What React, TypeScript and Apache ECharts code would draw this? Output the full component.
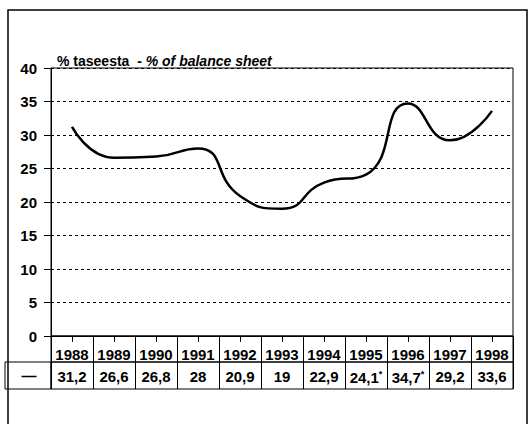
import React, { useEffect, useRef } from "react";
import * as echarts from "echarts";

const years = ["1988", "1989", "1990", "1991", "1992", "1993", "1994", "1995", "1996", "1997", "1998"];
const values = [31.2, 26.6, 26.8, 28, 20.9, 19, 22.9, 24.1, 34.7, 29.2, 33.6];
const starred = [false, false, false, false, false, false, false, true, true, false, false];
const yTicks = { min: 0, max: 40, interval: 5 };
const titleMain = "% taseesta  - ";
const titleItalic = "% of balance sheet";
const legendSymbol = "—";

const FONT = "'Liberation Sans', Arial, Helvetica, sans-serif";

const valueLabels = values.map((v, i) => {
  const s = String(v).replace(".", ",");
  return starred[i] ? `{v|${s}}{s|*}` : `{v|${s}}`;
});

export default function App() {
  const ref = useRef<HTMLDivElement>(null);
  useEffect(() => {
    if (!ref.current) return;
    const chart = echarts.init(ref.current, null, { renderer: "svg" });
    const tableAxis = (gridIndex: number) => ({
      type: "category" as const,
      gridIndex,
      data: years,
      boundaryGap: true,
      axisLine: { show: false },
      axisTick: { show: false },
      axisLabel: { show: false },
      splitLine: { show: true, interval: 0, lineStyle: { color: "#000", width: 1, type: "solid" as const } },
    });
    chart.setOption({
      animation: false,
      backgroundColor: "#fff",
      title: {
        left: 52,
        top: 49,
        text: `{a|${titleMain}}{b|${titleItalic}}`,
        textStyle: {
          rich: {
            a: { fontFamily: FONT, fontSize: 14, color: "#000" },
            b: { fontFamily: FONT, fontSize: 14, color: "#000", fontStyle: "italic" },
          },
        },
      },
      grid: [
        { left: 51, right: 19, top: 68, height: 268, show: true, borderColor: "#000", borderWidth: 1, backgroundColor: "transparent" },
        { left: 51, right: 19, top: 336, height: 26, show: true, borderColor: "#000", borderWidth: 1, backgroundColor: "transparent" },
        { left: 51, right: 19, top: 362, height: 27, show: true, borderColor: "#000", borderWidth: 1, backgroundColor: "transparent" },
      ],
      xAxis: [
        {
          type: "category",
          gridIndex: 0,
          data: years,
          boundaryGap: true,
          axisLine: { show: true, lineStyle: { color: "#000", width: 1 } },
          axisTick: { show: true, alignWithLabel: true, length: 6, lineStyle: { color: "#000" } },
          axisLabel: { interval: 0, margin: 11, fontFamily: FONT, fontSize: 15, fontWeight: "bold", color: "#000" },
          splitLine: { show: false },
        },
        {
          type: "category",
          gridIndex: 0,
          position: "bottom",
          data: valueLabels,
          boundaryGap: true,
          axisLine: { show: false },
          axisTick: { show: false },
          axisLabel: {
            interval: 0,
            margin: 33,
            rich: {
              v: { fontFamily: FONT, fontSize: 15, fontWeight: "bold", color: "#000" },
              s: { fontFamily: FONT, fontSize: 9, fontWeight: "bold", color: "#000", padding: [0, 0, 7, 0] },
            },
          },
          splitLine: { show: false },
        },
        tableAxis(1),
        tableAxis(2),
      ],
      yAxis: [
        {
          type: "value",
          gridIndex: 0,
          min: yTicks.min,
          max: yTicks.max,
          interval: yTicks.interval,
          axisLine: { show: true, lineStyle: { color: "#000", width: 1 } },
          axisTick: { show: true, length: 7, lineStyle: { color: "#000" } },
          axisLabel: { margin: 14, fontFamily: FONT, fontSize: 15, fontWeight: "bold", color: "#000" },
          splitLine: { show: true, lineStyle: { color: "#000", width: 1, type: [3, 3] } },
        },
        { type: "value", gridIndex: 1, show: false, splitLine: { show: false } },
        { type: "value", gridIndex: 2, show: false, splitLine: { show: false } },
      ],
      series: [
        {
          type: "line",
          xAxisIndex: 0,
          yAxisIndex: 0,
          data: values,
          smooth: 0.55,
          showSymbol: false,
          symbol: "none",
          lineStyle: { color: "#000", width: 2.5 },
        },
      ],
      graphic: [
        {
          type: "rect",
          shape: { x: 8, y: 10, width: 519, height: 430 },
          style: { fill: "none", stroke: "#000", lineWidth: 1.5 },
          silent: true,
        },
        {
          type: "rect",
          shape: { x: 5, y: 362, width: 46, height: 27 },
          style: { fill: "none", stroke: "#000", lineWidth: 1 },
          silent: true,
        },
        {
          type: "text",
          x: 29,
          y: 375,
          style: {
            text: legendSymbol,
            fontFamily: FONT,
            fontSize: 15,
            fontWeight: "bold",
            fill: "#000",
            align: "center",
            verticalAlign: "middle",
          },
          silent: true,
        },
      ],
    });
    return () => chart.dispose();
  }, []);
  return <div ref={ref} style={{ position: "fixed", left: 0, top: 0, width: 532, height: 424 }} />;
}
